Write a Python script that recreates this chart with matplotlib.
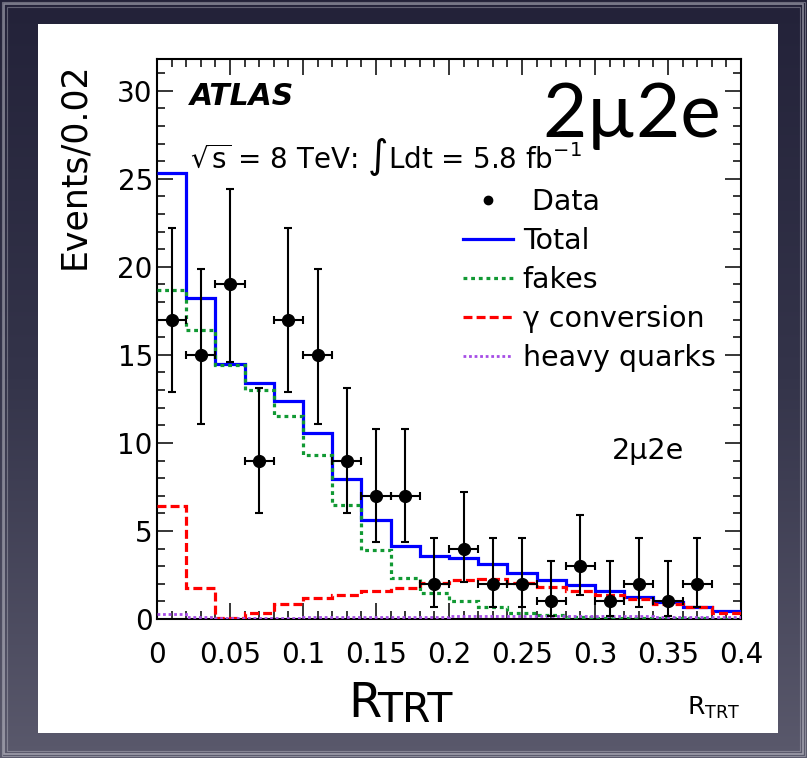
import numpy as np
import matplotlib
matplotlib.use("Agg")
import matplotlib.pyplot as plt
from matplotlib.lines import Line2D
from matplotlib.patches import Rectangle
from matplotlib.colors import LinearSegmentedColormap
from matplotlib.ticker import MultipleLocator, FixedLocator, FixedFormatter

# ---------------- data ----------------
bin_edges = [0.00, 0.02, 0.04, 0.06, 0.08, 0.10, 0.12, 0.14, 0.16, 0.18, 0.20,
             0.22, 0.24, 0.26, 0.28, 0.30, 0.32, 0.34, 0.36, 0.38, 0.40]
total = [25.3, 18.2, 14.5, 13.4, 12.4, 10.55, 7.95, 5.6, 4.15, 3.58,
         3.45, 3.15, 2.6, 2.22, 1.93, 1.6, 1.27, 0.95, 0.7, 0.45]
fakes = [18.7, 16.4, 14.4, 13.0, 11.5, 9.3, 6.5, 3.9, 2.3, 1.46,
         1.02, 0.7, 0.36, 0.23, 0.12, 0.08, 0.05, 0.04, 0.03, 0.02]
conversion = [6.4, 1.78, 0.05, 0.36, 0.85, 1.2, 1.38, 1.57, 1.78, 2.05,
              2.22, 2.27, 2.07, 1.84, 1.6, 1.38, 1.13, 0.85, 0.66, 0.36]
heavy_quarks = [0.28, 0.12, 0.08, 0.08, 0.08, 0.1, 0.1, 0.1, 0.1, 0.12,
                0.15, 0.15, 0.15, 0.15, 0.15, 0.15, 0.15, 0.12, 0.12, 0.1]

data_x = [0.01, 0.03, 0.05, 0.07, 0.09, 0.11, 0.13, 0.15, 0.17, 0.19,
          0.21, 0.23, 0.25, 0.27, 0.29, 0.31, 0.33, 0.35, 0.37]
data_y = [17, 15, 19, 9, 17, 15, 9, 7, 7, 2, 4, 2, 2, 1, 3, 1, 2, 1, 2]
data_low = [12.9, 11.1, 14.6, 6.0, 12.9, 11.1, 6.0, 4.4, 4.4, 0.7,
            2.1, 0.7, 0.7, 0.17, 1.37, 0.17, 0.7, 0.17, 0.7]
data_high = [22.2, 19.9, 24.4, 13.1, 22.2, 19.9, 13.1, 10.8, 10.8, 4.6,
             7.2, 4.6, 4.6, 3.3, 5.9, 3.3, 4.6, 3.3, 4.6]

x_tick_values = [0, 0.05, 0.1, 0.15, 0.2, 0.25, 0.3, 0.35, 0.4]
x_tick_labels = ["0", "0.05", "0.1", "0.15", "0.2", "0.25", "0.3", "0.35", "0.4"]
y_tick_values = [0, 5, 10, 15, 20, 25, 30]
y_tick_labels = ["0", "5", "10", "15", "20", "25", "30"]

legend_labels = [" Data", "Total", "fakes", "\u03b3 conversion", "heavy quarks"]

# ---------------- figure ----------------
W, H = 807, 758
plt.rcParams['font.family'] = ['DejaVu Sans']
fig = plt.figure(figsize=(W / 100, H / 100), dpi=100)


def fx(px):
    return px / W


def fy(py):
    return 1 - py / H


# background: dark slate gradient (dark top, lighter bottom) with a white panel
bg = fig.add_axes([0, 0, 1, 1], zorder=-10)
cmap = LinearSegmentedColormap.from_list("bg", ["#232239", "#34344a", "#5a596c"])
grad = np.linspace(0, 1, 256).reshape(-1, 1)
bg.imshow(grad, aspect='auto', cmap=cmap, extent=[0, 1, 0, 1], origin='upper',
          vmin=0, vmax=1)
bg.set_xlim(0, 1)
bg.set_ylim(0, 1)
bg.axis('off')
# scratchy light frame lines
for inset, lw, a in [(4, 1.2, 0.55), (7, 0.8, 0.35), (2, 0.8, 0.4)]:
    bg.add_patch(Rectangle((fx(inset), fy(H - inset)), fx(W - 2 * inset),
                           (H - 2 * inset) / H, fill=False, ec="#d8d8e0",
                           lw=lw, alpha=a))
bg.add_patch(Rectangle((fx(38), fy(733)), fx(778 - 38), (733 - 24) / H,
                       fc="white", ec="none"))

# main axes
ax = fig.add_axes([fx(157), fy(619), fx(741 - 157), (619 - 59) / H], zorder=1)
ax.set_xlim(0, 0.4)
ax.set_ylim(0, 31.8)

edges = np.array(bin_edges)
ax.stairs(total, edges, color="#0000ff", lw=2.3, baseline=None, zorder=3)
ax.stairs(fakes, edges, color="#119933", lw=2.3, ls=(0, (1.2, 1.2)),
          baseline=None, zorder=4)
ax.stairs(conversion, edges, color="#ff0000", lw=2.3, ls=(0, (2.8, 1.3)),
          baseline=None, zorder=5)
ax.stairs(heavy_quarks, edges, color="#a64de6", lw=2.0, ls=(0, (1, 1)),
          baseline=None, zorder=5)

dy = np.array(data_y, dtype=float)
yerr = [dy - np.array(data_low), np.array(data_high) - dy]
xerr = np.diff(edges)[:len(data_x)] / 2
ax.errorbar(data_x, data_y, yerr=yerr, xerr=xerr, fmt='o', color='black',
            ms=8.5, elinewidth=1.5, capsize=3, capthick=1.5, zorder=6)

# ticks
ax.xaxis.set_major_locator(FixedLocator(x_tick_values))
ax.xaxis.set_major_formatter(FixedFormatter(x_tick_labels))
ax.yaxis.set_major_locator(FixedLocator(y_tick_values))
ax.yaxis.set_major_formatter(FixedFormatter(y_tick_labels))
ax.xaxis.set_minor_locator(MultipleLocator(0.01))
ax.yaxis.set_minor_locator(MultipleLocator(1))
ax.tick_params(which='both', direction='in', top=True, right=True, width=1.1,
               color='black')
ax.tick_params(which='major', length=11.5)
ax.tick_params(which='minor', length=5.8)
ax.tick_params(axis='x', which='major', labelsize=20, pad=16)
ax.tick_params(axis='y', which='major', labelsize=20, pad=3)
for s in ax.spines.values():
    s.set_linewidth(1.5)

# legend
handles = [
    Line2D([], [], marker='o', ls='none', color='black', ms=6),
    Line2D([], [], color="#0000ff", lw=2.3),
    Line2D([], [], color="#119933", lw=2.3, ls=(0, (1.2, 1.2))),
    Line2D([], [], color="#ff0000", lw=2.3, ls=(0, (2.8, 1.3))),
    Line2D([], [], color="#a64de6", lw=2.0, ls=(0, (1, 1))),
]
ax.legend(handles, legend_labels, loc='upper left',
          bbox_to_anchor=(fx(463), fy(188)), bbox_transform=fig.transFigure,
          frameon=False, fontsize=20.5, handlelength=1.75, handletextpad=0.35,
          labelspacing=0.385, borderpad=0, borderaxespad=0)

# texts
fig.text(fx(190), fy(105), "ATLAS", fontsize=21.5, fontweight='bold',
         fontstyle='italic', ha='left', va='baseline')
fig.text(fx(190), fy(168),
         r"$\sqrt{\mathrm{s}}$ = 8 TeV: $\int$Ldt = 5.8 fb$^{\mathrm{-1}}$",
         fontsize=20, ha='left', va='baseline')
fig.text(fx(542), fy(137), "2\u00b52e", fontsize=55,
         family=['Lato', 'DejaVu Sans'], ha='left', va='baseline', zorder=5)
fig.text(fx(612), fy(459), "2\u03bc2e", fontsize=20.5, ha='left',
         va='baseline')
fig.text(fx(74), fy(62), "Events/0.02", fontsize=25, rotation=90,
         ha='center', va='top')
fig.text(fx(348), fy(717), "R", fontsize=34.5, ha='left', va='baseline')
fig.text(fx(377), fy(722), "TRT", fontsize=29.5, ha='left', va='baseline')
fig.text(fx(740), fy(715), r"R$_{\mathrm{TRT}}$", fontsize=18, ha='right',
         va='baseline')

fig.savefig("out.png", dpi=100)
